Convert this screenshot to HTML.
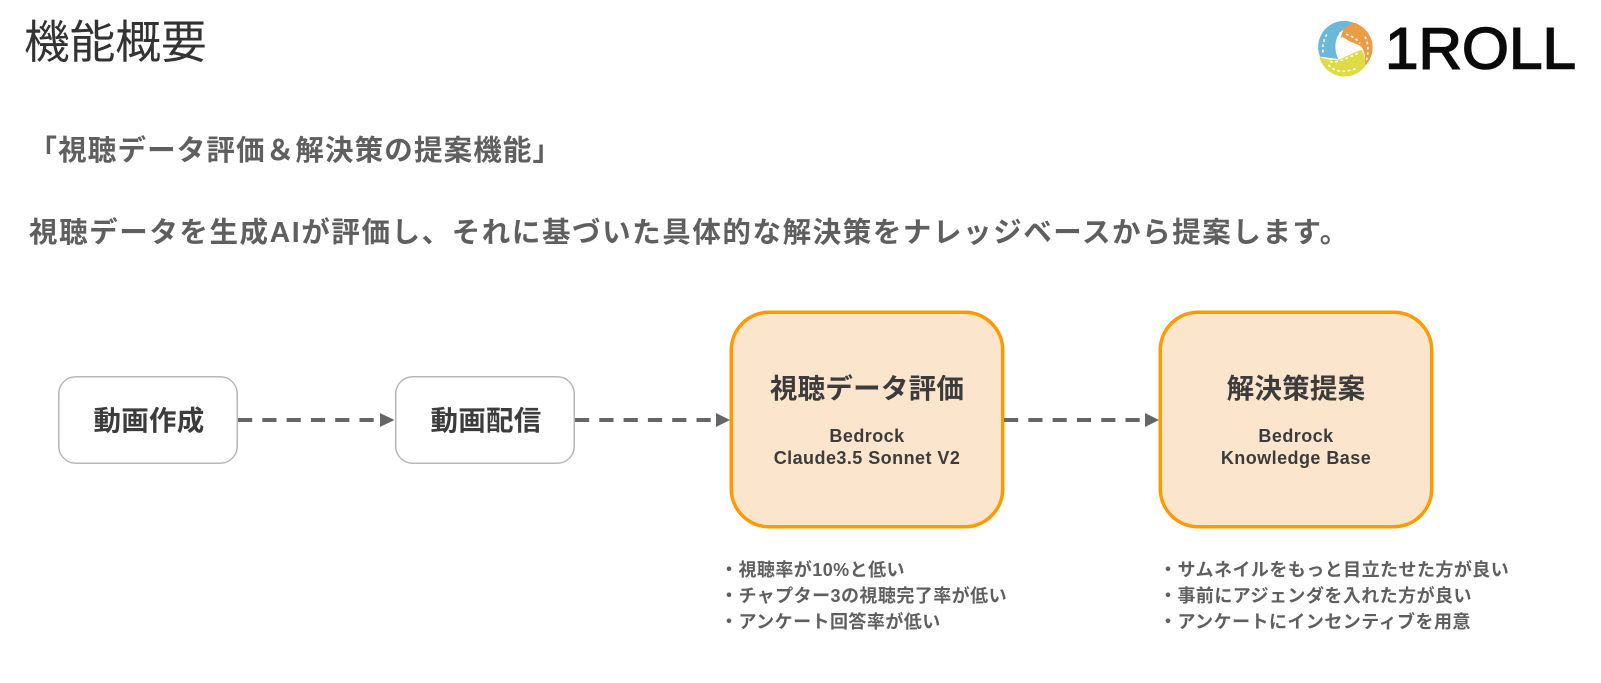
<!DOCTYPE html>
<html lang="ja"><head><meta charset="utf-8"><title>機能概要</title>
<style>
html,body{margin:0;padding:0;background:#fff}
body{width:1601px;height:683px;position:relative;overflow:hidden;font-family:"Liberation Sans","Noto Sans CJK JP",sans-serif}
.t{position:absolute;white-space:nowrap;line-height:1}
.b{font-weight:700}
.c{text-align:center;color:#3c3c3c}
.g{color:#5f5f5f}
.l{font-size:18px;letter-spacing:.45px}
.n{font-size:27.5px;letter-spacing:.25px}
.u{font-size:18px;letter-spacing:.45px}
svg{position:absolute;left:0;top:0}
</style></head><body>
<div class="t" style="left:24px;top:19.500px;font-size:45.7px;color:#333">機能概要</div>
<div class="t b g" style="left:28.500px;top:136.500px;font-size:28.5px;letter-spacing:1.15px">「視聴データ評価＆解決策の提案機能」</div>
<div class="t b g" style="left:29px;top:218.500px;font-size:28.5px;letter-spacing:1.58px">視聴データを生成AIが評価し、それに基づいた具体的な解決策をナレッジベースから提案します。</div>

<svg width="1601" height="683" viewBox="0 0 1601 683">
<g fill="#fff" stroke="#b7b7b7" stroke-width="1.500">
<rect x="58.750" y="376.750" width="178.500" height="86.500" rx="17"/>
<rect x="395.750" y="376.750" width="178.500" height="86.500" rx="17"/>
</g>
<g fill="#fce5cd" stroke="#ff9900" stroke-width="3.500">
<rect x="731.250" y="312.250" width="271.500" height="214.500" rx="38"/>
<rect x="1160.250" y="312.250" width="271.500" height="214.500" rx="38"/>
</g>
<g stroke="#666" stroke-width="4" stroke-dasharray="14.2 10.1" fill="none">
<path d="M238 420H374"/><path d="M575 420H711"/><path d="M1004 420H1140"/>
</g>
<g fill="#666">
<path d="M380 413L394.500 420L380 427Z"/><path d="M716 413L730 420L716 427Z"/><path d="M1145 413L1159 420L1145 427Z"/>
</g>
<!-- logo -->
<g transform="translate(1310 15) scale(.33333)">
<path d="M135 25A78 78 0 0 0 30 125L85 132C72 105 72 70 95 48C105 38 120 30 135 25Z" fill="#6cb8d8"/>
<path d="M100 42C115 30 130 25 135 24A78 78 0 0 1 163 155C168 130 165 105 150 92L92 68Z" fill="#ec9c45"/>
<path d="M28 125C50 135 70 138 90 132C115 122 135 110 155 105C165 125 168 140 165 155A78 78 0 0 1 28 125Z" fill="#dfdb45"/>
<path d="M95 65L150 97L95 130Z" fill="#fff"/>
<g fill="none" stroke="#fff" stroke-width="5" stroke-dasharray="8 8">
<path d="M82 118C76 95 80 70 92 52"/>
<path d="M39 112C36 90 42 70 55 52"/>
<path d="M108 58C125 62 140 72 150 85"/>
<path d="M165 65C176 85 176 115 168 140"/>
<path d="M60 140C85 145 120 125 150 112"/>
<path d="M55 150C75 172 105 174 140 160"/>
</g>
</g>
<text x="1385" y="68.500" font-family="Liberation Sans" font-size="58" stroke="#0a0a0a" stroke-width="1.500" fill="#0a0a0a" textLength="191" lengthAdjust="spacingAndGlyphs">1ROLL</text>
</svg>

<div class="t b c n" style="left:59px;width:180px;top:406.500px">動画作成</div>
<div class="t b c n" style="left:396px;width:180px;top:406.500px">動画配信</div>

<div class="t b c n" style="left:729px;width:276px;top:375px">視聴データ評価</div>
<div class="t b c l" style="left:729px;width:276px;top:427px">Bedrock</div>
<div class="t b c l" style="left:729px;width:276px;top:449px">Claude3.5 Sonnet V2</div>

<div class="t b c n" style="left:1158px;width:276px;top:375px">解決策提案</div>
<div class="t b c l" style="left:1158px;width:276px;top:427px">Bedrock</div>
<div class="t b c l" style="left:1158px;width:276px;top:449px">Knowledge Base</div>

<div class="t b g u" style="left:720px;top:560.500px">・視聴率が10%と低い</div>
<div class="t b g u" style="left:720px;top:586.500px">・チャプター3の視聴完了率が低い</div>
<div class="t b g u" style="left:720px;top:612.500px">・アンケート回答率が低い</div>

<div class="t b g u" style="left:1159px;top:560.500px">・サムネイルをもっと目立たせた方が良い</div>
<div class="t b g u" style="left:1159px;top:586.500px">・事前にアジェンダを入れた方が良い</div>
<div class="t b g u" style="left:1159px;top:612.500px">・アンケートにインセンティブを用意</div>
</body></html>
